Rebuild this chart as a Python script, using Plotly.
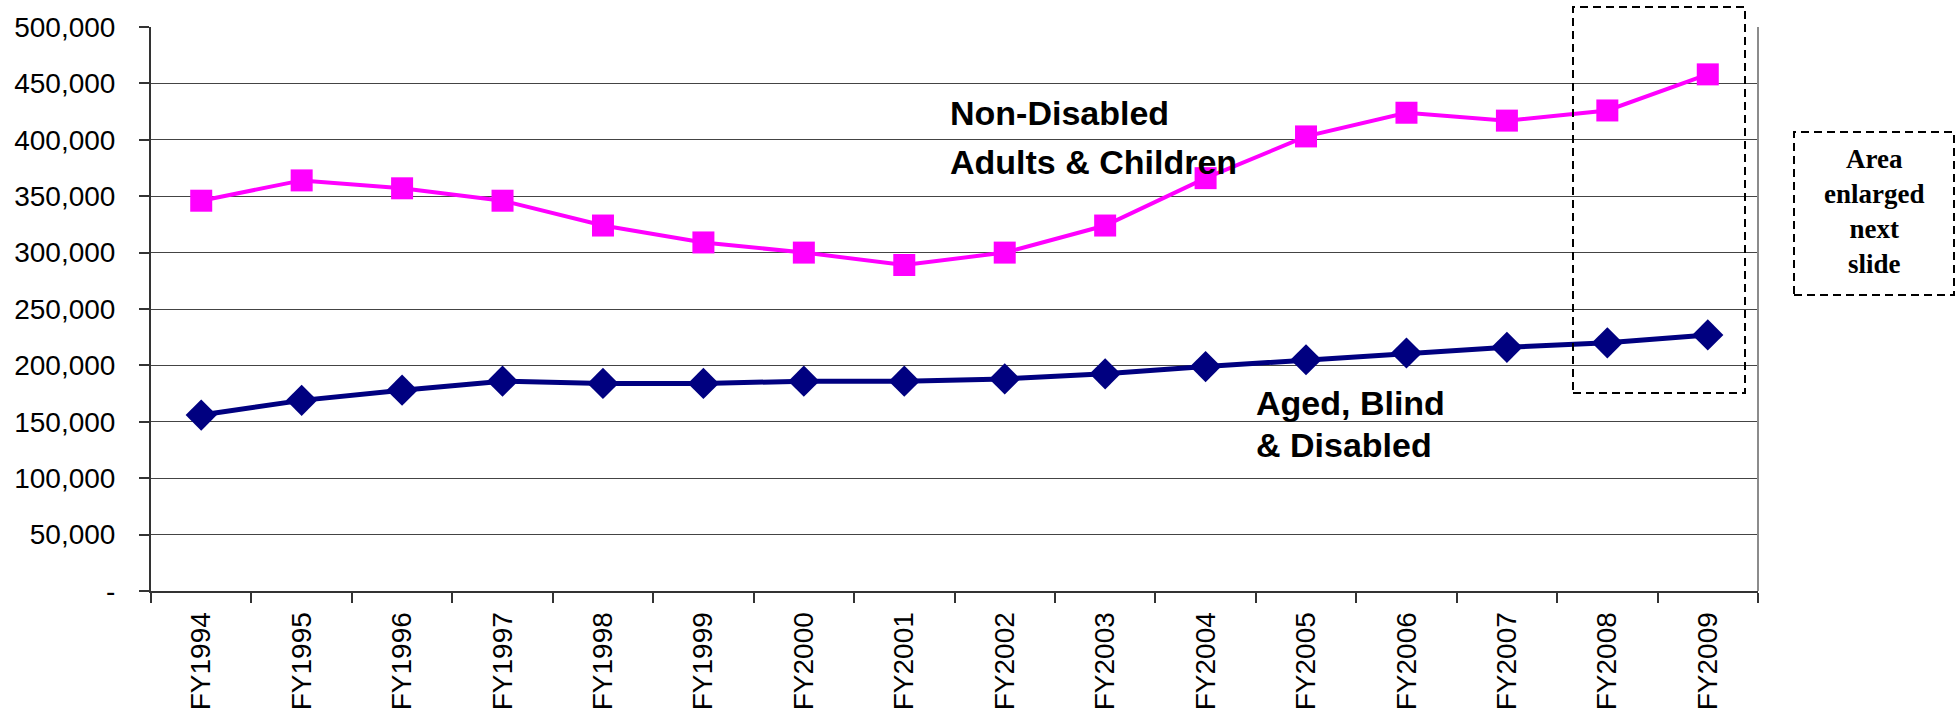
import plotly.graph_objects as go

years = ["FY1994", "FY1995", "FY1996", "FY1997", "FY1998", "FY1999", "FY2000", "FY2001",
         "FY2002", "FY2003", "FY2004", "FY2005", "FY2006", "FY2007", "FY2008", "FY2009"]
non_disabled = [346000, 364000, 357000, 346000, 324000, 309000, 300000, 289000,
                300000, 324000, 366000, 403000, 424000, 417000, 426000, 458000]
aged_blind_disabled = [156000, 169000, 178000, 186000, 184000, 184000, 186000, 186000,
                       188000, 192500, 199000, 205000, 211000, 216000, 220000, 227000]
y_tickvals = [0, 50000, 100000, 150000, 200000, 250000, 300000, 350000, 400000, 450000, 500000]
y_ticktext = ["-", "50,000", "100,000", "150,000", "200,000", "250,000", "300,000",
              "350,000", "400,000", "450,000", "500,000"]

W, H = 1957, 726
L, R, T, B = 151, 199, 27, 135
PW, PH = W - L - R, H - T - B


def px(x):
    return (x - L) / PW


def py(y):
    return (H - B - y) / PH


fig = go.Figure()
fig.add_trace(go.Scatter(
    x=years, y=non_disabled, mode="lines+markers", name="Non-Disabled Adults & Children",
    line=dict(color="#FF00FF", width=4),
    marker=dict(symbol="square", size=22, color="#FF00FF"),
))
fig.add_trace(go.Scatter(
    x=years, y=aged_blind_disabled, mode="lines+markers", name="Aged, Blind & Disabled",
    line=dict(color="#000080", width=5),
    marker=dict(symbol="diamond", size=24, color="#000080"),
))

font_main = "Liberation Sans, Arial, sans-serif"

fig.update_layout(
    width=W, height=H, autosize=False,
    margin=dict(l=L, r=R, t=T, b=B, pad=0),
    paper_bgcolor="white", plot_bgcolor="white",
    showlegend=False,
    font=dict(family=font_main, color="black"),
    xaxis=dict(
        type="category", range=[-0.5, 15.5], tickson="boundaries",
        ticks="outside", ticklen=10, tickcolor="#333", tickwidth=1.5,
        showline=True, linecolor="#333", linewidth=2,
        showgrid=False, tickangle=-90, ticklabelstandoff=8,
        tickfont=dict(family=font_main, size=28, color="black"),
    ),
    yaxis=dict(
        range=[0, 500000], tickvals=y_tickvals, ticktext=y_ticktext,
        ticks="outside", ticklen=10, tickcolor="#333", tickwidth=1.5,
        showline=True, linecolor="#333", linewidth=2,
        showgrid=True, gridcolor="#444444", gridwidth=1.3, zeroline=False,
        tickfont=dict(family=font_main, size=28, color="black"),
        ticklabelstandoff=18,
    ),
)

# right border of plot area
fig.add_shape(type="line", xref="paper", yref="paper", x0=1, x1=1, y0=0, y1=1,
              line=dict(color="#8c8c8c", width=2))

# dashed box around FY2008-FY2009
fig.add_shape(type="rect", xref="paper", yref="paper",
              x0=px(1573), x1=px(1745), y0=py(393), y1=py(7),
              line=dict(color="black", width=2, dash="8px,5px"), fillcolor="rgba(0,0,0,0)")
# dashed text box
fig.add_shape(type="rect", xref="paper", yref="paper",
              x0=px(1794), x1=px(1954), y0=py(295), y1=py(132),
              line=dict(color="black", width=2, dash="8px,5px"), fillcolor="rgba(0,0,0,0)")

ann_font = dict(family=font_main, size=34, color="black")
labels = [
    ("<b>Non-Disabled</b>", 948, 113),
    ("<b>Adults & Children</b>", 948, 162),
    ("<b>Aged, Blind</b>", 1254, 403),
    ("<b>& Disabled</b>", 1254, 445),
]
for text, x, y in labels:
    fig.add_annotation(text=text, xref="paper", yref="paper", x=px(x), y=py(y),
                       xanchor="left", yanchor="middle", showarrow=False, font=ann_font)

fig.add_annotation(text="<b>Area<br>enlarged<br>next<br>slide</b>", xref="paper", yref="paper",
                   x=px(1874), y=py(211), xanchor="center", yanchor="middle", showarrow=False,
                   align="center",
                   font=dict(family="Liberation Serif, Times New Roman, serif", size=27, color="black"))

fig.write_html(
    "out.html",
    config={"displayModeBar": False},
    post_script="document.body.style.margin='0';document.documentElement.style.overflow='hidden';",
)
